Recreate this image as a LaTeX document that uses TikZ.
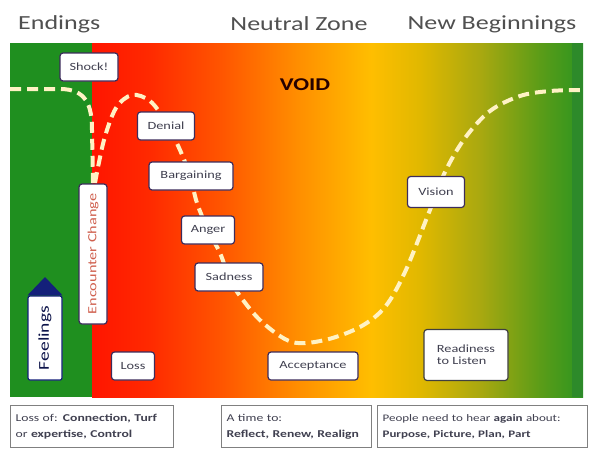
\documentclass[tikz,border=0pt]{standalone}
\usepackage{fontspec}
\setmainfont{Carlito}[FakeStretch=1.3]
\usetikzlibrary{shapes.geometric}
\definecolor{lgreen}{HTML}{1F8F1F}
\definecolor{rgreen}{HTML}{2D8A2A}
\definecolor{cream}{HTML}{FFF2C4}
\definecolor{nodeline}{HTML}{3C2C5C}
\definecolor{txt}{HTML}{404050}
\definecolor{ttl}{HTML}{505050}
\definecolor{navy}{HTML}{14207A}
\definecolor{salmon}{HTML}{D0604E}
\pgfdeclarehorizontalshading{voidshade}{100bp}{%
color(0bp)=(rgb,255:red,255;green,21;blue,0);%
color(25bp)=(rgb,255:red,255;green,21;blue,0);%
color(30.9bp)=(rgb,255:red,255;green,42;blue,0);%
color(38.1bp)=(rgb,255:red,255;green,85;blue,0);%
color(46.2bp)=(rgb,255:red,255;green,144;blue,0);%
color(53.4bp)=(rgb,255:red,255;green,190;blue,0);%
color(58.5bp)=(rgb,255:red,224;green,184;blue,0);%
color(64.6bp)=(rgb,255:red,168;green,168;blue,16);%
color(70.7bp)=(rgb,255:red,90;green,156;blue,24);%
color(75bp)=(rgb,255:red,45;green,149;blue,32);%
color(100bp)=(rgb,255:red,45;green,149;blue,32)}
\tikzset{
  stagebox/.style={draw=nodeline, line width=1.2pt, rounded corners=3pt, fill=white,
    text=txt, font=\fontsize{11}{12}\selectfont, minimum height=28pt, inner xsep=5pt, inner ysep=2pt},
  infobox/.style={draw=gray, line width=1.2pt, fill=white, text=txt, anchor=north west,
    align=left, inner xsep=5pt, inner ysep=5pt},
  titletext/.style={text=ttl, font=\fontsize{20}{22}\selectfont, inner sep=0pt},
  pathline/.style={cream, line width=4pt, dash pattern=on 11pt off 6pt}
}
\begin{document}
\begin{tikzpicture}[x=1pt,y=-1pt]
\useasboundingbox (0,0) rectangle (595,450);
\fill[white] (0,0) rectangle (595,450);
% titles
\node[titletext, anchor=west] (tend) at (18,24) {Endings};
\node[titletext] (tneu) at (299,24) {Neutral Zone};
\node[titletext] (tnew) at (492,24) {New Beginnings};
% background
\shade[shading=voidshade] (92,43) rectangle (583,397);
\fill[lgreen] (10,43) rectangle (92,397);
\fill[rgreen] (572,43) rectangle (583,397);
\node[font=\bfseries\fontsize{18}{19}\selectfont, text=black!85!red, inner sep=0pt] (void) at (305,85) {VOID};
% dashed curve
\draw[pathline] (10,89) -- (60,89) .. controls (86,89) and (92,105) .. (92,130) -- (93,183);
\draw[pathline] plot[smooth, tension=0.55] coordinates {(95,183) (104,140) (116,108) (132,95) (150,101) (166,122) (180,150) (190,176) (197,203) (208,230) (220,253) (229,277) (240,296) (262,322) (292,342) (325,340) (360,327) (385,307) (405,272) (428,215) (445,172) (465,138) (490,111) (520,96) (550,91) (583,90)};
% stage nodes
\node[stagebox, minimum width=58pt] (shock) at (89,67) {Shock!};
\node[stagebox, minimum width=57pt] (denial) at (166,126) {Denial};
\node[stagebox, minimum width=84pt] (barg) at (191,176) {Bargaining};
\node[stagebox, minimum width=53pt] (anger) at (208,230) {Anger};
\node[stagebox, minimum width=68pt] (sad) at (229,277) {Sadness};
\node[stagebox, minimum width=43pt] (loss) at (133,366) {Loss};
\node[stagebox, minimum width=90pt] (accept) at (313,366) {Acceptance};
\node[stagebox, minimum width=57pt, minimum height=31pt] (vision) at (436,192) {Vision};
\node[stagebox, minimum width=84pt, minimum height=51pt, align=left, draw=black!75] (ready) at (466,355) {Readiness\\to Listen};
% encounter change
\node[draw=nodeline, line width=1.2pt, rounded corners=3pt, fill=white, text=salmon,
  minimum width=140pt, minimum height=28pt, rotate=90, font=\fontsize{12.5}{13}\selectfont, inner sep=0pt] (enc) at (93,254) {Encounter Change};
% feelings arrow
\node[draw=navy, line width=1.2pt, rounded corners=2pt, fill=white, text=navy!60!black,
  minimum width=84pt, minimum height=34pt, rotate=90, font=\fontsize{15}{16}\selectfont, inner sep=0pt] (feel) at (45,338) {Feelings};
\coordinate (ftip) at (45,277);
\fill[navy] (feel.north east) -- (ftip) -- (feel.south east) -- cycle;
% info boxes
\node[infobox, minimum width=163pt, minimum height=42pt, text width=153pt,
  font=\fontsize{10.5}{16}\selectfont] (b1) at (10,405) {Loss of: \textbf{Connection, Turf}\\or \textbf{expertise, Control}};
\node[infobox, minimum width=150pt, minimum height=42pt, text width=140pt,
  font=\fontsize{10.5}{16}\selectfont] (b2) at (221,405) {A time to:\\\textbf{Reflect, Renew, Realign}};
\node[infobox, minimum width=210pt, minimum height=42pt, text width=200pt,
  font=\fontsize{10}{16}\selectfont] (b3) at (377,405) {People need to hear \textbf{again} about:\\\textbf{Purpose, Picture, Plan, Part}};
\end{tikzpicture}
\end{document}
